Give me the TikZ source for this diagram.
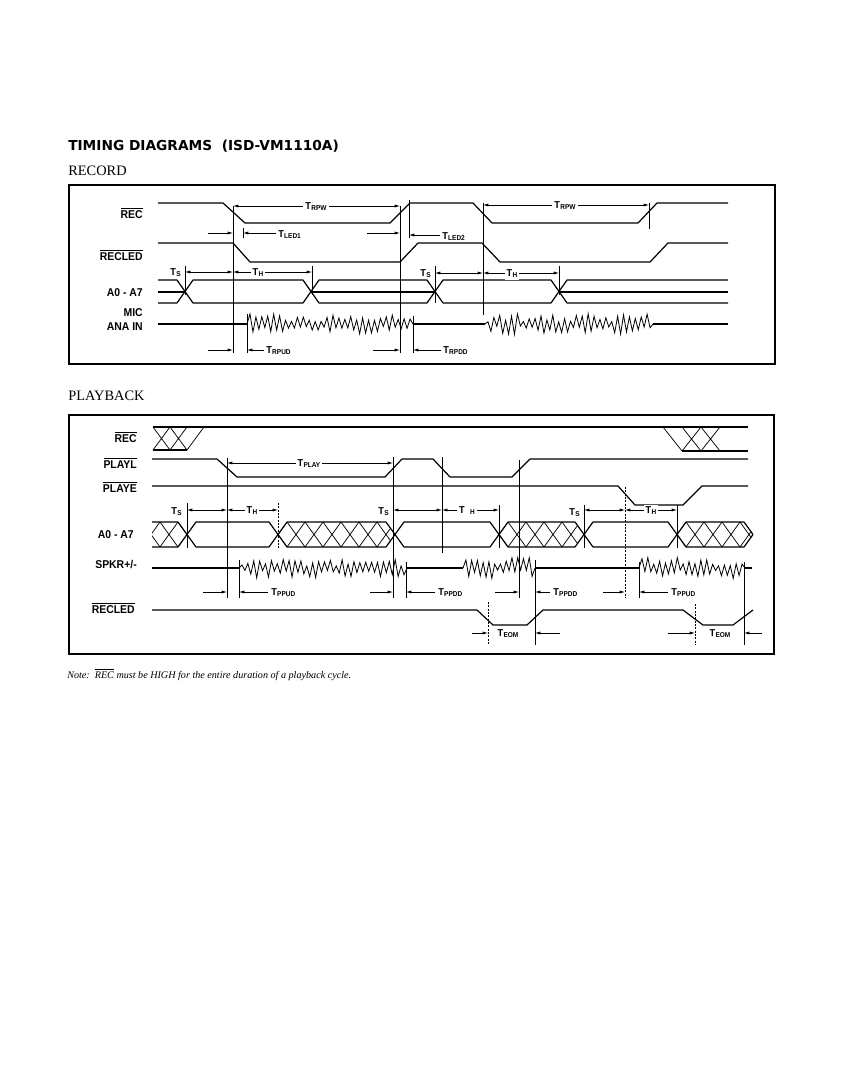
\documentclass[tikz,border=0pt]{standalone}
\usepackage{fontspec}
\setmainfont{Liberation Serif}
\newfontfamily\labf[FakeStretch=0.92]{Liberation Sans}
\newfontfamily\hdf{DejaVu Sans}
\usetikzlibrary{arrows.meta}
\newcommand\tsb[1]{T\kern0.2pt\raisebox{-0.8pt}{\fontsize{5.3}{6}\selectfont #1}}
\newcommand\ovl[1]{$\overline{\hbox{#1}}$}
\newcommand\noisesig[3]{%
  \pgfmathtruncatemacro\nsn{(#2-#1)/3}%
  \draw[nz] (#1,#3) \foreach \k in {1,...,\nsn} { -- ({#1+(#2-#1)*\k/(\nsn+1)},{#3+ifthenelse(isodd(\k),-1,1)*(2+8.5*rnd)}) } -- (#2,#3);%
}
\newcommand\hatchfill[2]{%
  \begin{scope}\clip #1;
    \foreach \s in {#2} {\draw[hl] (\s,547) -- ++(18,-25) (\s,522) -- ++(18,25);}
  \end{scope}%
}
\begin{document}
\begin{tikzpicture}[x={(0.75pt,0)},y={(0,-0.75pt)},
  sig/.style={line width=0.9pt, line join=round},
  nz/.style={line width=0.6pt},
  dimln/.style={line width=0.5pt},
  dd/.style={dimln,{Latex[length=4pt,width=2.3pt]}-{Latex[length=4pt,width=2.3pt]}},
  da/.style={dimln,-{Latex[length=4pt,width=2.3pt]}},
  vm/.style={line width=0.55pt},
  vmd/.style={line width=0.55pt, dash pattern=on 1.5pt off 1pt},
  hl/.style={line width=0.55pt},
  lab/.style={font=\labf\bfseries\fontsize{8.5}{10}\selectfont, inner sep=0pt},
  tl/.style={font=\labf\bfseries\fontsize{7.5}{9}\selectfont, inner sep=0.8pt},
  tlw/.style={tl, fill=white, inner sep=1.5pt},
  frame/.style={line width=0.9pt}]
\useasboundingbox (0,0) rectangle (840,1088);
\pgfmathsetseed{11}

% headings
\node[anchor=base west, inner sep=0, font=\hdf\bfseries\fontsize{10.3}{12}\selectfont] (title) at (68,150) {TIMING DIAGRAMS\ \ (ISD-VM1110A)};
\node[anchor=base west, inner sep=0, font=\fontsize{10.8}{12}\selectfont] (rechead) at (68,175) {RECORD};
\node[anchor=base west, inner sep=0, font=\fontsize{10.8}{12}\selectfont] (pbhead) at (68,400) {PLAYBACK};
\node[anchor=base west, inner sep=0, font=\itshape\fontsize{7.6}{9}\selectfont] (note) at (67,678) {Note:\ \ \ovl{REC} must be HIGH for the entire duration of a playback cycle.};

% ================= RECORD =================
\draw[frame] (69,185) rectangle (775,364);
\node[lab, anchor=base east] (rlRec) at (143,218) {\ovl{REC}};
\node[lab, anchor=base east] (rlLed) at (143,260) {\ovl{RECLED}};
\node[lab, anchor=base east] (rlA) at (143,296) {A0 - A7};
\node[lab, anchor=base east] (rlMic) at (143,316) {MIC};
\node[lab, anchor=base east] (rlAna) at (143,330) {ANA IN};

\draw[sig] (158,203) -- (223,203) -- (245,223) -- (390,223) -- (410,203) -- (473,203) -- (492,223) -- (638,223) -- (657,203) -- (728,203);
\draw[sig] (158,243) -- (233,243) -- (250,262) -- (400,262) -- (418,243) -- (482,243) -- (500,262) -- (650,262) -- (668,243) -- (728,243);
\draw[sig] (158,280) -- (177,280) -- (193,303) -- (303,303) -- (319,280) -- (427,280) -- (443,303) -- (551,303) -- (567,280) -- (728,280);
\draw[sig] (158,303) -- (177,303) -- (193,280) -- (303,280) -- (319,303) -- (427,303) -- (443,280) -- (551,280) -- (567,303) -- (728,303);
\draw[sig] (158,292) -- (185,292) (311,292) -- (435,292) (559,292) -- (728,292);
\draw[sig] (158,324) -- (247,324);
\noisesig{247}{413}{324}
\draw[sig] (413,324) -- (485,324);
\noisesig{485}{653}{324}
\draw[sig] (653,324) -- (728,324);

\draw[vm] (233,206) -- (233,353);
\draw[vm] (243,228) -- (243,238);
\draw[vm] (185,266) -- (185,295);
\draw[vm] (312,266) -- (312,295);
\draw[vm] (247,314) -- (247,353);
\draw[vm] (400,206) -- (400,353);
\draw[vm] (409,200) -- (409,238);
\draw[vm] (413,316) -- (413,353);
\draw[vm] (435,266) -- (435,303);
\draw[vm] (483,203) -- (483,315);
\draw[vm] (559,266) -- (559,295);
\draw[vm] (649,203) -- (649,229);

\draw[dd] (233,206) -- (400,206);
\node[tlw] (trpw1) at (316,207) {\tsb{RPW}};
\draw[dd] (483,205) -- (649,205);
\node[tlw] (trpw2) at (565,206) {\tsb{RPW}};
\draw[da] (208,233) -- (233,233);
\draw[da] (276,233) -- (243,233);
\node[tl, anchor=west] (tled1) at (277,235) {\tsb{LED1}};
\draw[da] (367,233) -- (400,233);
\draw[da] (440,235) -- (409,235);
\node[tl, anchor=west] (tled2) at (441,237) {\tsb{LED2}};
\node[tl, anchor=east] (ts1) at (182,273) {\tsb{S}};
\draw[dd] (185,272) -- (233,272);
\draw[dd] (233,272) -- (312,272);
\node[tlw] (th1) at (258,273) {\tsb{H}};
\node[tl, anchor=east] (ts2) at (432,274) {\tsb{S}};
\draw[dd] (435,273) -- (483,273);
\draw[dd] (483,273) -- (559,273);
\node[tlw] (th2) at (512,274) {\tsb{H}};
\draw[da] (208,350) -- (233,350);
\draw[da] (264,350) -- (247,350);
\node[tl, anchor=west] (trpud) at (265,351) {\tsb{RPUD}};
\draw[da] (373,350) -- (400,350);
\draw[da] (441,350) -- (413,350);
\node[tl, anchor=west] (trpdd) at (442,351) {\tsb{RPDD}};

% ================= PLAYBACK =================
\draw[frame] (69,415) rectangle (774,654);
\node[lab, anchor=base east] (plRec) at (137,442) {\ovl{REC}};
\node[lab, anchor=base east] (plPl) at (137,468) {\ovl{PLAYL}};
\node[lab, anchor=base east] (plPe) at (137,492) {\ovl{PLAYE}};
\node[lab, anchor=base east] (plA) at (134,538) {A0 - A7};
\node[lab, anchor=base east] (plSp) at (137,568) {SPKR+/-};
\node[lab, anchor=base east] (plLed) at (135,613) {\ovl{RECLED}};

% REC
\draw[sig] (153,427) -- (748,427);
\draw[sig] (153,450) -- (187,450);
\draw[hl] (153,427) -- (170,450) (170,427) -- (187,450) (153,450) -- (170,427) (170,450) -- (187,427) (187,450) -- (204,427);
\draw[sig] (682,451) -- (748,451);
\draw[hl] (663,427) -- (682,451) (682,427) -- (701,451) (701,427) -- (720,451) (682,451) -- (701,427) (701,451) -- (720,427);
% PLAYL, PLAYE
\draw[sig] (152,459) -- (217,459) -- (237,477) -- (385,477) -- (402,459) -- (433,459) -- (450,477) -- (512,477) -- (530,459) -- (748,459);
\draw[sig] (152,486) -- (618,486) -- (635,505) -- (683,505) -- (702,486) -- (748,486);
% A0-A7
\hatchfill{(152,522) -- (178,522) -- (187,534.5) -- (178,547) -- (152,547) -- cycle}{124,142,...,178}
\hatchfill{(278,534.5) -- (287,522) -- (386,522) -- (395,534.5) -- (386,547) -- (287,547) -- cycle}{251,269,...,395}
\hatchfill{(499,534.5) -- (508,522) -- (575,522) -- (584,534.5) -- (575,547) -- (508,547) -- cycle}{472,490,...,584}
\hatchfill{(677,534.5) -- (686,522) -- (744,522) -- (753,534.5) -- (744,547) -- (686,547) -- cycle}{650,668,...,758}
\draw[sig] (152,522) -- (178,522) -- (187,534.5) -- (178,547) -- (152,547);
\draw[sig] (187,534.5) -- (196,522) -- (269,522) -- (278,534.5) -- (269,547) -- (196,547) -- cycle;
\draw[sig] (278,534.5) -- (287,522) -- (386,522) -- (395,534.5) -- (386,547) -- (287,547) -- cycle;
\draw[sig] (395,534.5) -- (404,522) -- (490,522) -- (499,534.5) -- (490,547) -- (404,547) -- cycle;
\draw[sig] (499,534.5) -- (508,522) -- (575,522) -- (584,534.5) -- (575,547) -- (508,547) -- cycle;
\draw[sig] (584,534.5) -- (593,522) -- (668,522) -- (677,534.5) -- (668,547) -- (593,547) -- cycle;
\draw[sig] (677,534.5) -- (686,522) -- (744,522) -- (753,534.5) -- (744,547) -- (686,547) -- cycle;
% SPKR
\draw[sig] (152,568) -- (239,568);
\noisesig{239}{407}{568}
\draw[sig] (407,568) -- (463,568);
\noisesig{463}{535}{568}
\draw[sig] (535,568) -- (639,568);
\noisesig{639}{745}{568}
\draw[sig] (745,568) -- (752,568);
% RECLED
\draw[sig] (152,610) -- (477,610) -- (493,625) -- (527,625) -- (543,610) -- (683,610) -- (703,625) -- (733,625) -- (753,610);

% markers
\draw[vm] (187,503) -- (187,548);
\draw[vm] (227,458) -- (227,598);
\draw[vm] (239,560) -- (239,598);
\draw[vmd] (278,503) -- (278,548);
\draw[vm] (393,457) -- (393,598);
\draw[vm] (406,562) -- (406,598);
\draw[vm] (442,457) -- (442,553);
\draw[vm] (499,505) -- (499,548);
\draw[vm] (519,460) -- (519,598);
\draw[vm] (535,560) -- (535,645);
\draw[vm] (584,505) -- (584,548);
\draw[vmd] (625,487) -- (625,598);
\draw[vm] (639,562) -- (639,598);
\draw[vm] (677,505) -- (677,548);
\draw[vmd] (488,602) -- (488,645);
\draw[vmd] (695,604) -- (695,645);
\draw[vm] (744,562) -- (744,645);

% dimensions
\draw[dd] (227,463) -- (393,463);
\node[tlw] (tplay) at (309,464) {\tsb{PLAY}};
\node[tl, anchor=east] (pts1) at (183,512) {\tsb{S}};
\draw[dd] (187,510) -- (227,510);
\draw[dd] (227,510) -- (278,510);
\node[tlw] (pth1) at (252,511) {\tsb{H}};
\node[tl, anchor=east] (pts2) at (390,512) {\tsb{S}};
\draw[dd] (393,510) -- (442,510);
\draw[dd] (442,510) -- (499,510);
\node[tlw] (pth2) at (467,511) {T\hspace{4pt}\raisebox{-0.8pt}{\fontsize{5.3}{6}\selectfont H}};
\node[tl, anchor=east] (pts3) at (581,513) {\tsb{S}};
\draw[dd] (584,510) -- (625,510);
\draw[dd] (625,510) -- (677,510);
\node[tlw] (pth3) at (651,511) {\tsb{H}};

\draw[da] (203,592) -- (227,592);
\draw[da] (268,592) -- (239,592);
\node[tl, anchor=west] (tppud1) at (270,593) {\tsb{PPUD}};
\draw[da] (370,592) -- (393,592);
\draw[da] (435,592) -- (406,592);
\node[tl, anchor=west] (tppdd1) at (437,593) {\tsb{PPDD}};
\draw[da] (495,592) -- (519,592);
\draw[da] (550,592) -- (535,592);
\node[tl, anchor=west] (tppdd2) at (552,593) {\tsb{PPDD}};
\draw[da] (603,592) -- (625,592);
\draw[da] (668,592) -- (639,592);
\node[tl, anchor=west] (tppud2) at (670,593) {\tsb{PPUD}};

\draw[da] (472,633) -- (488,633);
\node[tl] (teom1) at (508,634) {\tsb{EOM}};
\draw[da] (560,633) -- (535,633);
\draw[da] (668,633) -- (695,633);
\node[tl] (teom2) at (720,634) {\tsb{EOM}};
\draw[da] (762,633) -- (744,633);
\end{tikzpicture}
\end{document}
